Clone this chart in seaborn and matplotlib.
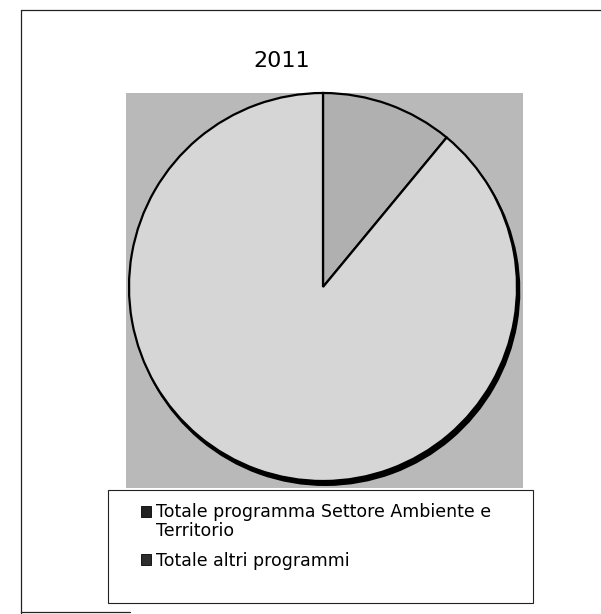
import matplotlib
matplotlib.use("Agg")
import matplotlib.pyplot as plt
from matplotlib.lines import Line2D
from matplotlib.patches import Patch, Rectangle
import seaborn as sns

# Quota dei programmi, anno 2011 (valori percentuali)
title = "2011"
categories = ["Totale programma Settore Ambiente e\nTerritorio",
              "Totale altri programmi"]
shares = [11.0, 89.0]

slice_colors = ["#b0b0b0", "#d6d6d6"]
handle_colors = ["#222222", "#2e2e2e"]
plot_bg = "#b9b9b9"

sns.set_theme(style="white")
plt.rcParams["font.family"] = ["DejaVu Sans"]

W, H = 601, 614
fig = plt.figure(figsize=(W / 100, H / 100), dpi=100)

# plot area (grey panel) in pixel units
px0, px1, py0, py1 = 126, 523, 93, 488
ax = fig.add_axes([px0 / W, 1 - py1 / H, (px1 - px0) / W, (py1 - py0) / H])
ax.set_facecolor(plot_bg)

cx, cy, r = 323 - px0, py1 - 287, 194
wedges, _ = ax.pie(
    shares,
    colors=slice_colors,
    startangle=90,
    counterclock=False,
    center=(cx, cy),
    radius=r,
    frame=True,
    wedgeprops=dict(edgecolor="black", linewidth=1.6),
    shadow=dict(ox=1.6, oy=-2.8, shade=1.0, alpha=1.0),
)
ax.set_xlim(0, px1 - px0)
ax.set_ylim(0, py1 - py0)
ax.set_aspect("auto")
ax.set_xticks([])
ax.set_yticks([])
for s in ax.spines.values():
    s.set_visible(False)

fig.text(282 / W, 1 - 61 / H, title, ha="center", va="center",
         fontsize=16, color="black")

# legend
handles = [Patch(facecolor=c, edgecolor="black", linewidth=0.6) for c in handle_colors]
leg = fig.legend(
    handles, categories,
    loc="upper left",
    bbox_to_anchor=(141 / W, 1 - 503 / H),
    bbox_transform=fig.transFigure,
    frameon=False,
    fontsize=12.5,
    handlelength=0.6,
    handleheight=0.6,
    handletextpad=0.25,
    labelspacing=0.66,
    borderpad=0,
    borderaxespad=0,
)
for t in leg.get_texts():
    t.set_linespacing(1.1)
    t.set_color("black")

# put the marker of the two-line entry beside its first line
line_step_pt = 8.2
first = leg.legend_handles[0]
first.set_y(first.get_y() + line_step_pt)

# legend box
fig.add_artist(Rectangle((108 / W, 1 - 603 / H), (533 - 108) / W, (603 - 490) / H,
                         transform=fig.transFigure, facecolor="none",
                         edgecolor="#222222", linewidth=0.8))

# outer frame of the chart
frame_kw = dict(transform=fig.transFigure, color="#222222", linewidth=0.9)
fig.add_artist(Line2D([21 / W, 21 / W], [1 - 10 / H, 0], **frame_kw))
fig.add_artist(Line2D([21 / W, 1], [1 - 10 / H, 1 - 10 / H], **frame_kw))
fig.add_artist(Line2D([21 / W, 130 / W], [1 - 612 / H, 1 - 612 / H], **frame_kw))

fig.savefig("out.png", dpi=100, facecolor="white")
